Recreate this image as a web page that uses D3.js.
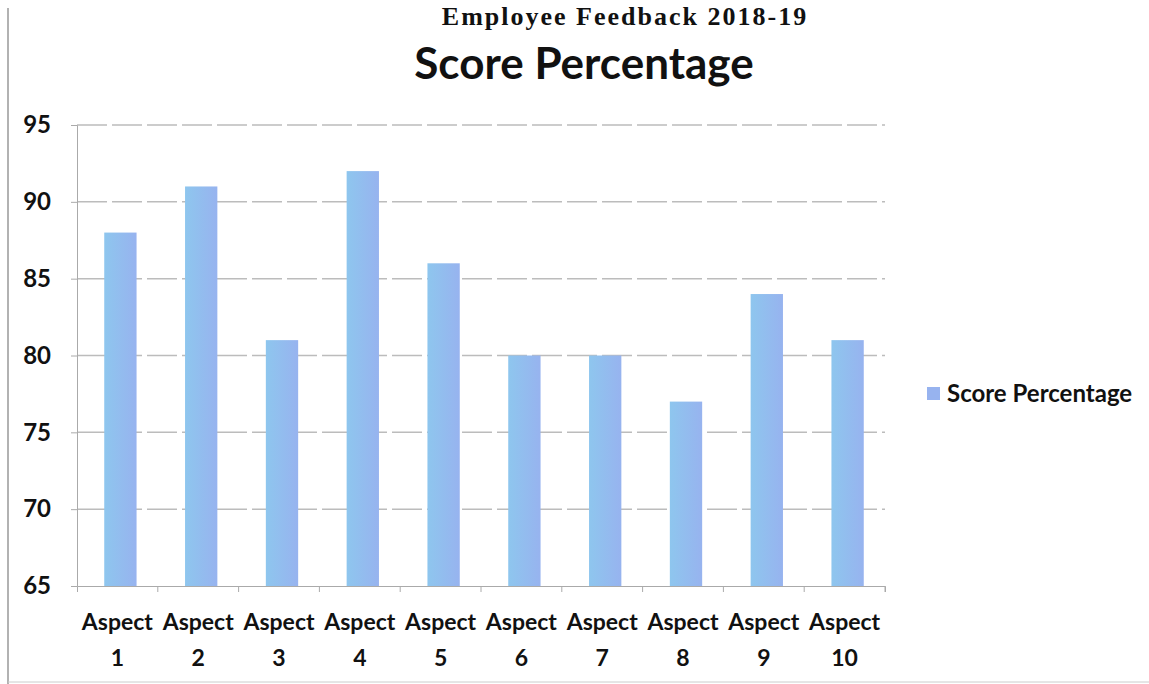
<!DOCTYPE html>
<html><head><meta charset="utf-8">
<script src="https://cdn.jsdelivr.net/npm/d3@7"></script>
<style>body{margin:0;background:#fff}svg{display:block}</style>
</head><body>
<svg id="c" width="1149" height="684"></svg>
<script>
const categories = ["Aspect 1","Aspect 2","Aspect 3","Aspect 4","Aspect 5","Aspect 6","Aspect 7","Aspect 8","Aspect 9","Aspect 10"];
const scores = [88, 91, 81, 92, 86, 80, 80, 77, 84, 81];
const yTicks = [65, 70, 75, 80, 85, 90, 95];
const seriesName = "Score Percentage";
const chartTitle = "Score Percentage";
const pageHeading = "Employee Feedback 2018-19";

const svg = d3.select("#c");
const font = "Lato, 'Open Sans', sans-serif";
const m = {left: 77, right: 885, top: 125, bottom: 586};

const defs = svg.append("defs");
const g = defs.append("linearGradient").attr("id","bg").attr("x1","0").attr("x2","1").attr("y1","0").attr("y2","0");
g.append("stop").attr("offset","0").attr("stop-color","#8ec6ee");
g.append("stop").attr("offset","1").attr("stop-color","#97b3ef");

// page border lines (scan)
svg.append("line").attr("x1",8).attr("x2",8).attr("y1",8).attr("y2",684).attr("stroke","#999").attr("stroke-width",1.5);
svg.append("line").attr("x1",8).attr("x2",1149).attr("y1",682).attr("y2",682).attr("stroke","#ccc").attr("stroke-width",1);

svg.append("text").attr("x",625).attr("y",25).attr("text-anchor","middle")
  .attr("font-family","'Liberation Serif', serif").attr("font-weight","bold").attr("font-size",26)
  .attr("letter-spacing",2).attr("fill","#111").text(pageHeading);

const x = d3.scaleBand().domain(categories).range([m.left, m.right]).paddingInner(0.6).paddingOuter(0.3);
const xc = d3.scaleBand().domain(categories).range([m.left, m.right]);
const y = d3.scaleLinear().domain([65, 95]).range([m.bottom, m.top]);

// gridlines
svg.append("g").selectAll("line").data(yTicks.slice(1)).join("line")
  .attr("x1", m.left).attr("x2", m.right).attr("y1", d=>y(d)).attr("y2", d=>y(d))
  .attr("stroke","#bcbcbc").attr("stroke-width",1.5).attr("stroke-dasharray","30,5");

// bars
svg.append("g").selectAll("rect").data(scores).join("rect")
  .attr("x",(d,i)=>x(categories[i])+3).attr("width",x.bandwidth())
  .attr("y",d=>y(d)).attr("height",d=>y(65)-y(d))
  .attr("fill","url(#bg)");

// y axis
const ya = svg.append("g").attr("transform",`translate(${m.left},0)`)
  .call(d3.axisLeft(y).tickValues(yTicks).tickSize(6).tickPadding(20));
ya.select(".domain").attr("stroke","#aaa");
ya.selectAll(".tick line").attr("stroke","#aaa");
ya.selectAll("text").attr("font-family",font).attr("font-weight","bold").attr("font-size",24).attr("fill","#111");

// x axis
const xa = svg.append("g").attr("transform",`translate(0,${m.bottom})`)
  .call(d3.axisBottom(xc).tickSize(6).tickFormat(""));
xa.select(".domain").attr("stroke","#aaa");
xa.selectAll(".tick line").attr("transform",`translate(${xc.bandwidth()/2},0)`).attr("stroke","#aaa");
const lab = svg.append("g").selectAll("text").data(categories).join("text")
  .attr("x", d=>xc(d)+xc.bandwidth()/2).attr("text-anchor","middle")
  .attr("font-family",font).attr("font-weight","bold").attr("font-size",23).attr("fill","#111");
lab.append("tspan").attr("x", d=>xc(d)+xc.bandwidth()/2).attr("y",630).text(d=>d.split(" ")[0]);
lab.append("tspan").attr("x", d=>xc(d)+xc.bandwidth()/2).attr("y",666).text(d=>d.split(" ")[1]);

// title
svg.append("text").attr("x",584).attr("y",79).attr("text-anchor","middle")
  .attr("font-family",font).attr("font-weight","bold").attr("font-size",44).attr("fill","#111").text(chartTitle);

// legend
svg.append("rect").attr("x",927).attr("y",387).attr("width",13).attr("height",13).attr("fill","#97b3ef");
svg.append("text").attr("x",947).attr("y",402).attr("font-family",font).attr("font-weight","bold")
  .attr("font-size",24).attr("fill","#111").text(seriesName);
</script>
</body></html>
